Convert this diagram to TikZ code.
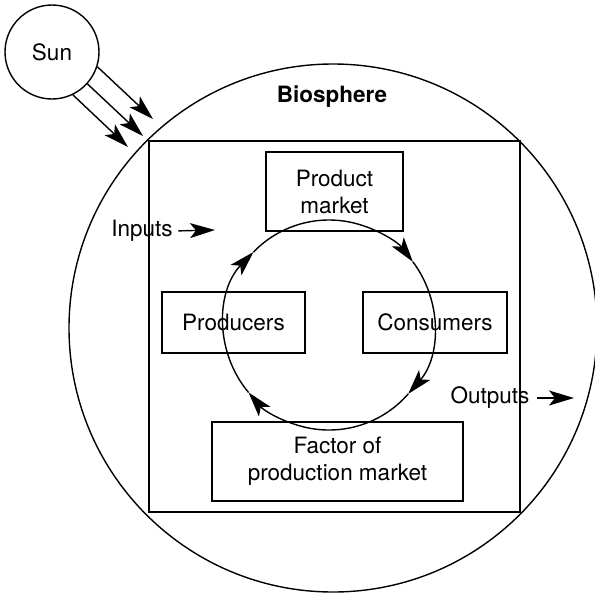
\documentclass[tikz,border=0pt]{standalone}
\usepackage{fontspec}
\setmainfont{TeX Gyre Heros}
\usetikzlibrary{arrows.meta}
\tikzset{
  box/.style={draw,inner sep=0pt,align=center},
  ring/.style={draw,circle,inner sep=0pt},
  arrowtip/.style={-{Stealth[length=25pt,width=15pt,inset=6pt]}},
}
\begin{document}
\begin{tikzpicture}[x=1pt,y=-1pt,line width=1.4pt,font=\fontsize{22.5}{27}\selectfont]
  \useasboundingbox (0,0) rectangle (595,595);
  \clip (0,0) rectangle (595,595);
  \draw
    (52,52) node[ring,minimum size=94pt] (sun){Sun}
    (333,328) node[ring,minimum size=528pt] (bio){}
    (334.5,326.5) node[box,minimum width=371pt,minimum height=371pt] (eco){}
    (332,97) node[font=\fontsize{22.5}{27}\selectfont\bfseries] (biolabel){Biosphere}
    (334.5,191.5) node[box,minimum width=137pt,minimum height=79pt] (product){Product\\market}
    (233.5,322.5) node[box,minimum width=143pt,minimum height=61pt] (producers){Producers}
    (435,322.5) node[box,minimum width=144pt,minimum height=61pt] (consumers){Consumers}
    (337.5,461.5) node[box,minimum width=251pt,minimum height=79pt] (factor){Factor of\\production market}
    (142,231) node[inner sep=0pt] (inputs){Inputs}
    (490,398) node[inner sep=0pt] (outputs){Outputs};
  \coordinate (flow) at (329,325);
  \coordinate (ray1) at (153,119);
  \coordinate (ray2) at (143,136);
  \coordinate (ray3) at (128,147);
  \coordinate (inend) at (215,230);
  \coordinate (outend) at (574,398);
  \begin{scope}[arrowtip]
    \draw (sun.-18) to (ray1);
    \draw (sun.-42) to (ray2);
    \draw (sun.-64) to (ray3);
    \draw[shorten <=5pt] (inputs.east) to (inend);
    \draw[shorten <=7pt] (outputs.east) to (outend);
    \draw (flow) ++(140:105) arc (140:224:105);
    \draw (flow) ++(224:105) arc (224:323:105);
    \draw (flow) ++(323:105) arc (323:401:105);
    \draw (flow) ++(401:105) arc (401:500:105);
  \end{scope}
\end{tikzpicture}
\end{document}
